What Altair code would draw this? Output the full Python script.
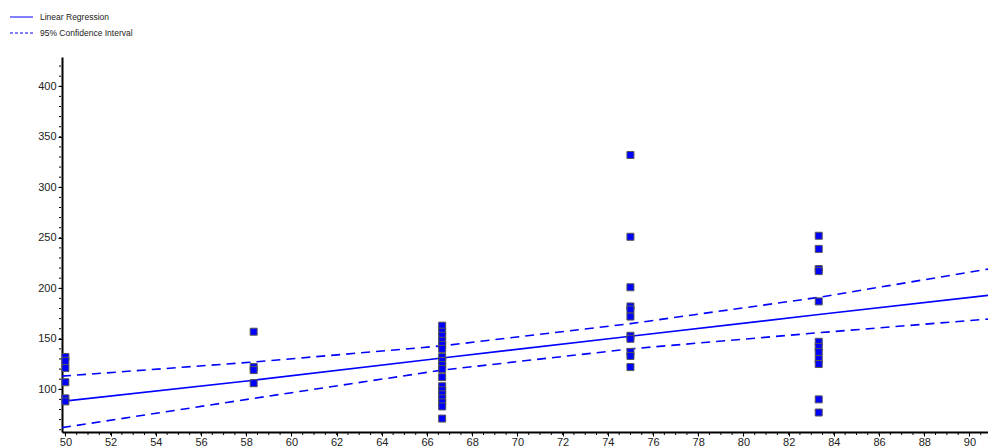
import altair as alt
import pandas as pd
import numpy as np

# ---- data ----
col_50 = [132, 128, 121, 107, 91, 88]
col_58 = [157, 122, 119, 106]
col_67 = [163, 157, 153, 148, 144, 140, 132, 128, 124, 120, 112, 103, 99, 95, 91, 87, 83, 71]
col_75 = [332, 251, 201, 182, 179, 172, 153, 150, 137, 133, 122]
col_83 = [252, 239, 219, 217, 187, 147, 142, 137, 130, 125, 90, 77]
col_x = [50.0, 58.33, 66.67, 75.0, 83.33]

line_x = [49.85, 58.33, 66.67, 75.0, 83.33, 90.82]
reg_y = [88, 109, 131, 152.5, 174, 193]
ci_upper = [113, 127, 143, 165, 191, 219]
ci_lower = [62, 91, 119, 140, 156, 169.5]

x_ticks = list(range(50, 92, 2))
y_ticks = [100, 150, 200, 250, 300, 350, 400]
x_minor = list(np.arange(50, 90.81, 0.5))
y_minor = list(range(60, 430, 10))

X_DOM = [49.85, 90.82]
Y_DOM = [57.7, 429]
W, H = 926, 375

pts = []
for xv, col in zip(col_x, [col_50, col_58, col_67, col_75, col_83]):
    for v in col:
        pts.append({"x": xv, "y": v})
pts = pd.DataFrame(pts)
lines = pd.DataFrame({"x": line_x, "reg": reg_y, "up": ci_upper, "lo": ci_lower})

BLUE = "#0000FF"
xs = alt.Scale(domain=X_DOM, nice=False, zero=False)
ys = alt.Scale(domain=Y_DOM, nice=False, zero=False)

xaxis = alt.Axis(values=x_ticks, title=None, grid=False, tickSize=4, labelFontSize=11,
                 labelFont="Liberation Sans", labelColor="#222", domainColor="black",
                 domainWidth=2, tickColor="black", labelPadding=0, labelFlush=False)
yaxis = alt.Axis(values=y_ticks, title=None, grid=False, tickSize=4, labelFontSize=11,
                 labelFont="Liberation Sans", labelColor="#222", domainColor="black",
                 domainWidth=2, tickColor="black", labelPadding=2)

base = alt.Chart(lines)
reg = base.mark_line(color=BLUE, strokeWidth=1.6).encode(
    x=alt.X("x:Q", scale=xs, axis=xaxis), y=alt.Y("reg:Q", scale=ys, axis=yaxis))
up = base.mark_line(color=BLUE, strokeWidth=1.6, strokeDash=[9, 6]).encode(
    x=alt.X("x:Q", scale=xs), y=alt.Y("up:Q", scale=ys))
lo = base.mark_line(color=BLUE, strokeWidth=1.6, strokeDash=[9, 6]).encode(
    x=alt.X("x:Q", scale=xs), y=alt.Y("lo:Q", scale=ys))

points = alt.Chart(pts).mark_square(size=49, filled=True, color=BLUE, stroke="#555",
                                    strokeWidth=1, opacity=1).encode(
    x=alt.X("x:Q", scale=xs), y=alt.Y("y:Q", scale=ys))

xminor = alt.Chart(pd.DataFrame({"t": x_minor})).mark_rule(color="black", strokeWidth=1).encode(
    x=alt.X("t:Q", scale=xs), y=alt.value(H + 1), y2=alt.value(H + 3))
yminor = alt.Chart(pd.DataFrame({"t": y_minor})).mark_rule(color="black", strokeWidth=1).encode(
    y=alt.Y("t:Q", scale=ys), x=alt.value(-1), x2=alt.value(-3))

one = pd.DataFrame({"a": [0]})
leg1 = alt.Chart(one).mark_rule(color=BLUE, strokeWidth=1).encode(
    x=alt.value(-52), x2=alt.value(-29), y=alt.value(-40))
leg2 = alt.Chart(one).mark_rule(color=BLUE, strokeWidth=1, strokeDash=[3, 2]).encode(
    x=alt.value(-52), x2=alt.value(-29), y=alt.value(-24))
t1 = alt.Chart(one).mark_text(align="left", baseline="middle", fontSize=8.5,
                              font="Liberation Sans", color="#222").encode(
    x=alt.value(-22), y=alt.value(-40), text=alt.value("Linear Regression"))
t2 = alt.Chart(one).mark_text(align="left", baseline="middle", fontSize=8.5,
                              font="Liberation Sans", color="#222").encode(
    x=alt.value(-22), y=alt.value(-24), text=alt.value("95% Confidence Interval"))

chart = alt.layer(reg, up, lo, points, xminor, yminor, leg1, leg2, t1, t2).properties(
    width=W, height=H,
    padding={"left": 54, "top": 49, "right": 0, "bottom": 14},
    autosize=alt.AutoSizeParams(type="none"),
    background="white",
).configure_view(stroke=None)

chart.save("out.html", embed_options={"renderer": "svg", "actions": False})
